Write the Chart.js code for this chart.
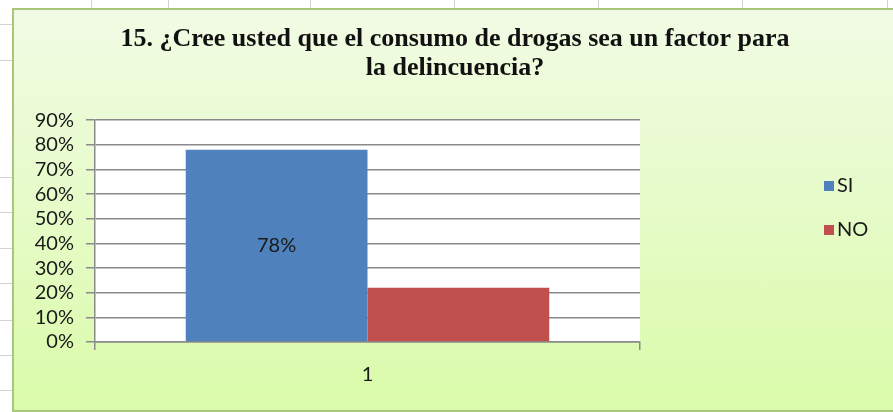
<!DOCTYPE html>
<html>
<head>
<meta charset="utf-8">
<script src="https://cdn.jsdelivr.net/npm/chart.js@4/dist/chart.umd.min.js"></script>
<style>
html,body{margin:0;padding:0;background:#fff;width:893px;height:412px;overflow:hidden;position:relative;}
.vl{position:absolute;top:0;width:1px;height:10px;background:#d4d4d4;}
.hl{position:absolute;left:0;width:13px;height:1px;background:#d4d4d4;}
#box{position:absolute;left:12px;top:8px;width:895px;height:400px;border:2px solid #a9c77a;
 background:linear-gradient(to bottom,#f1fbe4 0%,#e6fbc8 50%,#dafba9 100%);}
#c{position:absolute;left:0;top:0;}
</style>
</head>
<body>
<div class="vl" style="left:91px"></div><div class="vl" style="left:168px"></div>
<div class="vl" style="left:310px"></div><div class="vl" style="left:454px"></div>
<div class="vl" style="left:598px"></div><div class="vl" style="left:742px"></div>
<div class="vl" style="left:887px"></div>
<div class="hl" style="top:24px"></div><div class="hl" style="top:60px"></div>
<div class="hl" style="top:177px"></div><div class="hl" style="top:212px"></div>
<div class="hl" style="top:248px"></div><div class="hl" style="top:283px"></div>
<div class="hl" style="top:320px"></div><div class="hl" style="top:355px"></div>
<div class="hl" style="top:390px"></div>
<div id="box"></div>
<canvas id="c" width="893" height="412"></canvas>
<script>
const titleLines = ["15. ¿Cree usted que el consumo de drogas sea un factor para", "la delincuencia?"];
const categories = ["1"];
const seriesNames = ["SI", "NO"];
const siValues = [78];
const noValues = [22];
const seriesColors = ["#4f81bd", "#c0504d"];
const yTicks = [0,10,20,30,40,50,60,70,80,90];

const FONT = "Lato, 'Liberation Sans', sans-serif";

const plotBg = {
  id:'plotBg',
  beforeDraw(chart){
    const {ctx, chartArea:a} = chart;
    ctx.save(); ctx.fillStyle='#ffffff';
    ctx.fillRect(a.left, a.top, a.right-a.left, a.bottom-a.top);
    ctx.restore();
  }
};
const valueLabel = {
  id:'valueLabel',
  afterDatasetsDraw(chart){
    const {ctx} = chart;
    const meta = chart.getDatasetMeta(0);
    ctx.save();
    ctx.font = "20px " + FONT;
    ctx.fillStyle = '#1a1a1a';
    ctx.textAlign='center'; ctx.textBaseline='middle';
    meta.data.forEach((bar,i)=>{
      const v = chart.data.datasets[0].data[i];
      ctx.fillText(v + '%', bar.x, (bar.y + bar.base)/2);
    });
    ctx.restore();
  }
};
const customLegend = {
  id:'customLegend',
  afterDraw(chart){
    const {ctx} = chart;
    ctx.save();
    ctx.font = "20px " + FONT;
    ctx.textBaseline='middle'; ctx.textAlign='left';
    chart.data.datasets.forEach((ds,i)=>{
      const y = 186 + i*44;
      ctx.fillStyle = ds.backgroundColor;
      ctx.fillRect(824, y-5, 10, 10);
      ctx.fillStyle = '#1a1a1a';
      ctx.fillText(ds.label, 837, y);
    });
    ctx.restore();
  }
};

new Chart(document.getElementById('c'), {
  type:'bar',
  data:{
    labels: categories,
    datasets:[
      {label: seriesNames[0], data: siValues, backgroundColor: seriesColors[0], borderWidth:0},
      {label: seriesNames[1], data: noValues, backgroundColor: seriesColors[1], borderWidth:0}
    ]
  },
  options:{
    responsive:false, animation:false,
    categoryPercentage:0.667, barPercentage:1,
    layout:{padding:{left:17,right:0,top:0,bottom:0}},
    plugins:{
      legend:{display:false},
      tooltip:{enabled:false},
      title:{display:true, text:titleLines, color:'#111',
        font:{family:"'Liberation Serif','Times New Roman',serif", size:26, weight:'bold', lineHeight:1.12},
        padding:{top:25,bottom:37}}
    },
    scales:{
      x:{
        grid:{display:true, drawOnChartArea:false, offset:true, tickLength:8, color:'#8a8a8a', lineWidth:1.5},
        border:{color:'#8a8a8a', width:1.5},
        ticks:{color:'#1a1a1a', font:{family:FONT, size:20}, padding:13},
        afterFit(s){ s.height = 70; }
      },
      y:{
        min:0, max:90,
        afterBuildTicks(s){ s.ticks = yTicks.map(v=>({value:v})); },
        grid:{color:'#8a8a8a', lineWidth:1.5, tickLength:9},
        border:{color:'#8a8a8a', width:1.5},
        ticks:{color:'#1a1a1a', font:{family:FONT, size:20}, padding:12, autoSkip:false, callback:v=>v+'%'},
        afterFit(s){ s.width = 78; }
      },
      yR:{
        position:'right', display:true,
        grid:{display:false}, border:{display:false},
        ticks:{display:false},
        afterFit(s){ s.width = 253; }
      }
    }
  },
  plugins:[plotBg, valueLabel, customLegend]
});
</script>
</body>
</html>
